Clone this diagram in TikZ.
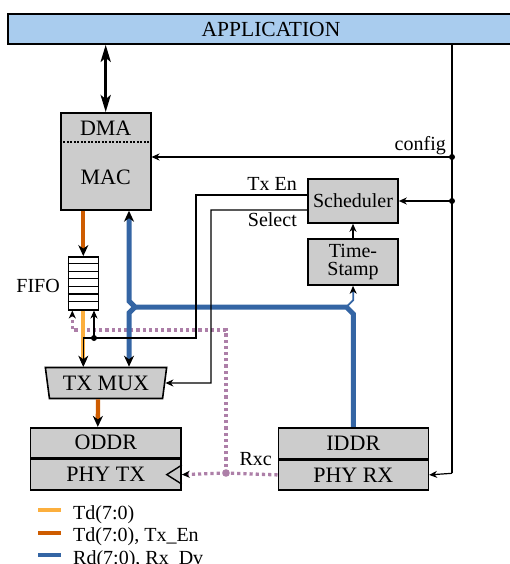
\documentclass[tikz,border=0pt]{standalone}
\usepackage{fontspec}
\setmainfont{Liberation Serif}
\usepackage{tikz}
\usetikzlibrary{shapes.geometric, arrows.meta, calc}
\definecolor{AppBlue}{RGB}{169,204,238}
\definecolor{BoxGray}{RGB}{204,204,204}
\definecolor{TdLight}{RGB}{252,175,62}
\definecolor{TdDark}{RGB}{206,92,0}
\definecolor{RdBlue}{RGB}{52,101,164}
\definecolor{RxcPlum}{RGB}{173,127,168}

\begin{document}
\begin{tikzpicture}[x=1pt, y=-1pt,
          blk/.style={rectangle, draw, line width=1.6pt, fill=BoxGray, inner sep=0pt,
                      font=\fontsize{22}{24}\selectfont},
          sblk/.style={blk, minimum width=90pt, align=center,
                       font=\fontsize{20}{18.5}\selectfont},
          lbl/.style={inner sep=0pt, font=\fontsize{20}{22}\selectfont},
          sig/.style={draw=black, line width=1.2pt},
          ar/.style={-{Stealth[length=8pt, width=7pt, inset=2.5pt, color=black]}},
          bigar/.style={-{Stealth[length=11pt, width=10pt, inset=3.5pt, color=black]}},
          rd/.style={draw=RdBlue, line width=5pt},
          rxc/.style={draw=RxcPlum, line width=3.3pt, dash pattern=on 3.2pt off 3pt}
        ]
        \useasboundingbox (0,0) rectangle (510,564);

        % Application
        \node[rectangle, draw, line width=1.6pt, fill=AppBlue, minimum width=526pt,
              minimum height=30pt, font=\fontsize{21.5}{24}\selectfont]
              (app) at (271,29) {APPLICATION};

        % DMA / MAC
        \node[blk, minimum width=90pt, minimum height=97pt] (mac) at (105.7,161.4) {};
        \node[lbl, font=\fontsize{22}{24}\selectfont] (dmaText) at (105.7,128.5) {DMA};
        \node[lbl, font=\fontsize{22}{24}\selectfont] (macText) at (105.7,177) {MAC};
        \draw[line width=1.2pt, dash pattern=on 2pt off 1.5pt]
              ([yshift=-30pt]mac.north west) -- ([yshift=-30pt]mac.north east);

        % FIFO
        \node[draw, fill=white, line width=1.4pt, minimum width=30pt, minimum height=53pt,
              inner sep=0pt] (fifo) at (83.3,283.3) {};
        \foreach \r in {1,...,6}
          \draw[line width=1.3pt] ($(fifo.north west)+(0,\r*53/7)$) -- ($(fifo.north east)+(0,\r*53/7)$);
        \node[lbl, anchor=base east] (fifoText) at (60,292.7) {FIFO};

        % TX MUX
        \node[trapezium, draw, fill=BoxGray, line width=1.6pt, trapezium left angle=102,
              trapezium right angle=102, trapezium stretches=true, minimum width=121.7pt,
              minimum height=31pt, inner sep=0pt, font=\fontsize{22}{24}\selectfont]
              (txmux) at (106,383) {TX MUX};

        % ODDR / PHY TX
        \node[blk, minimum width=150.3pt, minimum height=30pt] (oddr) at (105.8,442.7) {ODDR};
        \node[blk, minimum width=150.3pt, minimum height=30.6pt, anchor=north]
              (phytx) at (oddr.south) {PHY TX};

        % IDDR / PHY RX
        \node[blk, minimum width=150pt, minimum height=30.6pt] (iddr) at (353.3,443) {IDDR};
        \node[blk, minimum width=150pt, minimum height=30pt, anchor=north]
              (phyrx) at (iddr.south) {PHY RX};

        % Scheduler, Time-Stamp
        \node[sblk, minimum height=44pt] (sched) at (353,201) {Scheduler};
        \node[sblk, minimum height=46pt] (tstamp) at (353,262) {Time-\\Stamp};

        % corners and junctions
        \coordinate (cfgDot) at (452,157);
        \coordinate (schDot) at (452,201);
        \coordinate (rxCorner) at (452,473.3);
        \coordinate (enCorner) at (196,338);
        \coordinate (enDot) at (94,338);
        \coordinate (selCorner) at (211,383);
        \coordinate (rdL) at (129,307);
        \coordinate (rdR) at (353.3,307);
        \coordinate (rxcDot) at (226,473);
        \coordinate (rxcUp) at (226,330);

        % Rxc clock
        \draw[rxc] (phyrx.west) -- (rxcDot);
        \draw[rxc, ar] (rxcDot) -- (phytx.east);
        \draw[rxc, ar] (rxcDot) -- (rxcUp) -| ([xshift=-11pt]fifo.south);
        \fill[RxcPlum] (rxcDot) circle (3.8pt);
        \node[lbl, anchor=base east] (rxcText) at (272,465) {Rxc};
        \draw[line width=1.4pt] ([yshift=9.5pt]phytx.east) -- ++(-15,9.5) -- ++(15,9.5);

        % Rd(7:0), Rx_Dv
        \draw[rd, bigar] (iddr.north) -- ([yshift=-7pt]rdR) -- ([xshift=-7pt]rdR)
              -- ([xshift=6pt]rdL) -- ([yshift=6pt]rdL) -- (rdL |- mac.south);
        \draw[rd, bigar] ([xshift=6pt]rdL) -- ([yshift=-6pt]rdL) -- (rdL |- txmux.north);
        \draw[RdBlue, line width=1.8pt, ar] ([xshift=-7pt]rdR) -- ([yshift=7pt]rdR) -- (tstamp.south);

        % Td(7:0) and Td(7:0), Tx_En
        \draw[line width=4.3pt, TdDark, bigar] (mac.south -| fifo.north) -- (fifo.north);
        \draw[line width=4pt, TdLight, bigar] (fifo.south) -- (fifo.south |- txmux.north);
        \draw[line width=4.3pt, TdDark, bigar] ([xshift=-8pt]txmux.south) -- ([xshift=-8pt]oddr.north);

        % Application <-> DMA
        \draw[line width=3pt, {Stealth[length=17pt, width=10pt, inset=4pt]}-{Stealth[length=17pt, width=10pt, inset=4pt]}]
              (app.south -| mac.north) -- (mac.north);

        % config bus
        \draw[sig] (app.south -| cfgDot) -- (rxCorner);
        \draw[sig, ar] (rxCorner) -- (phyrx.east);
        \draw[sig, ar] (cfgDot) -- (cfgDot -| mac.east);
        \draw[sig, ar] (schDot) -- (sched.east);
        \fill (cfgDot) circle (3pt);
        \fill (schDot) circle (3pt);
        \node[lbl, anchor=base east] (cfgText) at (446,151) {config};

        % Scheduler outputs
        \draw[sig, ar] (tstamp.north) -- (sched.south);
        \draw[sig, ar] ([yshift=6pt]sched.west) -| (enCorner) -- (enDot) -- (enDot -| fifo.south)
              -- (fifo.south |- txmux.north);
        \draw[sig, ar] (enDot) -- (enDot |- fifo.south);
        \fill (enDot) circle (3pt);
        \draw[sig, ar] ([yshift=-9pt]sched.west) -| (selCorner) -- (txmux.east);
        \node[lbl, anchor=base east] (txenText) at (297,190) {Tx En};
        \node[lbl, anchor=base east] (selText) at (297,226) {Select};

        % Legend
        \foreach \col/\txt [count=\i] in {TdLight/{Td(7:0)}, TdDark/{Td(7:0), Tx\_En}, RdBlue/{Rd(7:0), Rx\_Dv}} {
          \node[lbl, anchor=base west] (key\i) at (73,{519.3+22.5*(\i-1)}) {\txt};
          \draw[line width=4pt, \col] ($(key\i.base west)+(-35,-9)$) -- ++(23,0);
        }
      \end{tikzpicture}
\end{document}
